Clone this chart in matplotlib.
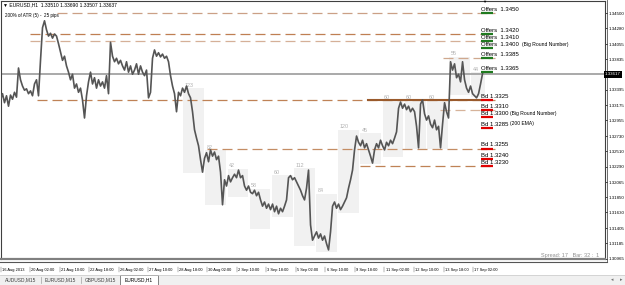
import numpy as np
import matplotlib
matplotlib.use('Agg')
from matplotlib import pyplot as plt
from matplotlib.patches import Rectangle

plt.rcParams['font.family'] = ['Liberation Sans', 'DejaVu Sans']

# EURUSD H1 close, one value every ~2 bars
close = [1.3325, 1.3334, 1.3321, 1.3331, 1.3316, 1.3332, 1.3326, 1.3336, 1.3329, 1.3371,
         1.3354, 1.3345, 1.3339, 1.3341, 1.3334, 1.3338, 1.3331, 1.3348, 1.3354, 1.3331,
         1.3382, 1.3429, 1.3439, 1.3426, 1.3417, 1.3421, 1.3414, 1.3420, 1.3417, 1.3406,
         1.3394, 1.3382, 1.3388, 1.3374, 1.3365, 1.3354, 1.3362, 1.3342, 1.3348, 1.3336,
         1.3342, 1.3325, 1.3299, 1.3331, 1.3351, 1.3365, 1.3348, 1.3357, 1.3342, 1.3354,
         1.3345, 1.3351, 1.3342, 1.3360, 1.3334, 1.3408, 1.3388, 1.3380, 1.3385, 1.3377,
         1.3382, 1.3374, 1.3368, 1.3380, 1.3365, 1.3374, 1.3362, 1.3368, 1.3377, 1.3362,
         1.3374, 1.3365, 1.3360, 1.3368, 1.3328, 1.3336, 1.3385, 1.3397, 1.3388, 1.3393,
         1.3387, 1.3391, 1.3385, 1.3388, 1.3380, 1.3360, 1.3345, 1.3334, 1.3308, 1.3336,
         1.3331, 1.3342, 1.3336, 1.3345, 1.3334, 1.3328, 1.3308, 1.3282, 1.3270, 1.3259,
         1.3239, 1.3221, 1.3241, 1.3249, 1.3236, 1.3253, 1.3244, 1.3250, 1.3239, 1.3244,
         1.3221, 1.3174, 1.3210, 1.3201, 1.3216, 1.3207, 1.3213, 1.3218, 1.3213, 1.3224,
         1.3213, 1.3216, 1.3201, 1.3195, 1.3201, 1.3192, 1.3190, 1.3195, 1.3187, 1.3192,
         1.3181, 1.3172, 1.3178, 1.3169, 1.3175, 1.3167, 1.3175, 1.3164, 1.3172, 1.3161,
         1.3169, 1.3164, 1.3172, 1.3181, 1.3213, 1.3216, 1.3210, 1.3213, 1.3207, 1.3201,
         1.3195, 1.3187, 1.3181, 1.3198, 1.3224, 1.3145, 1.3123, 1.3129, 1.3135, 1.3126,
         1.3132, 1.3123, 1.3129, 1.3118, 1.3109, 1.3135, 1.3172, 1.3178, 1.3169, 1.3175,
         1.3167, 1.3172, 1.3178, 1.3184, 1.3198, 1.3210, 1.3224, 1.3253, 1.3273, 1.3264,
         1.3259, 1.3267, 1.3256, 1.3262, 1.3253, 1.3244, 1.3234, 1.3253, 1.3262, 1.3256,
         1.3267, 1.3259, 1.3253, 1.3264, 1.3259, 1.3267, 1.3262, 1.3270, 1.3279, 1.3313,
         1.3322, 1.3313, 1.3319, 1.3311, 1.3316, 1.3308, 1.3313, 1.3308, 1.3287, 1.3256,
         1.3319, 1.3325, 1.3305, 1.3296, 1.3302, 1.3290, 1.3285, 1.3296, 1.3282, 1.3287,
         1.3256, 1.3290, 1.3321, 1.3308, 1.3299, 1.3380, 1.3368, 1.3377, 1.3357, 1.3362,
         1.3351, 1.3380, 1.3354, 1.3342, 1.3336, 1.3345, 1.3334, 1.3331, 1.3328, 1.3334,
         1.3348, 1.3363]
STEP = 2.167  # bars per sample

date_labels = ['16 Aug 2013', '20 Aug 02:00', '21 Aug 10:00', '22 Aug 18:00', '26 Aug 02:00',
               '27 Aug 10:00', '28 Aug 18:00', '30 Aug 02:00', '2 Sep 10:00', '3 Sep 18:00',
               '5 Sep 02:00', '6 Sep 10:00', '9 Sep 18:00', '11 Sep 02:00', '12 Sep 10:00',
               '13 Sep 18:00', '17 Sep 02:00']
date_bars = [32 * k for k in range(len(date_labels))]

price_ticks = [1.34500, 1.34280, 1.34055, 1.33835, 1.33395, 1.33175, 1.32955, 1.32730,
               1.32510, 1.32290, 1.32065, 1.31850, 1.31630, 1.31405, 1.31185, 1.30965]
last_price = 1.33617

# daily range boxes
day_bar = [198, 222, 246, 270, 294, 318, 342, 366, 390, 414, 438, 462, 486, 510]
day_high = [1.3342, 1.3253, 1.3226, 1.3197, 1.3217, 1.3227, 1.3190, 1.3282, 1.3277,
            1.3325, 1.3325, 1.3325, 1.3387, 1.3365]
day_low = [1.3220, 1.3174, 1.3185, 1.3139, 1.3156, 1.3115, 1.3106, 1.3162, 1.3233,
           1.3243, 1.3254, 1.3254, 1.3332, 1.3329]
day_pips = [123, 82, 42, 58, 60, 112, 84, 120, 45, 60, 60, 60, 55, 44]

offer_price = [1.3450, 1.3420, 1.3410, 1.3400, 1.3385, 1.3365]
offer_note = ['', '', '', '(Big Round Number)', '', '']
bid_price = [1.3325, 1.3310, 1.3300, 1.3285, 1.3255, 1.3240, 1.3230]
bid_note = ['', '', '(Big Round Number)', '(200 EMA)', '', '', '']

line_price = [1.3450, 1.3420, 1.3410, 1.3385, 1.3325, 1.3310, 1.3255, 1.3230]
line_start = [61, 32, 32, 479, 39, 476, 224, 389]
line_color = ['#cba086', '#bf7f52', '#d5b098', '#cfa88e', '#bf8256', '#d6b39a', '#c48d64', '#bf8256']

W, H = 625, 285
fig = plt.figure(figsize=(W / 100, H / 100), dpi=100)
fig.patch.set_facecolor('white')

# chrome in pixel coords
bg = fig.add_axes([0, 0, 1, 1], zorder=-1)
bg.set_xlim(0, W)
bg.set_ylim(H, 0)
bg.axis('off')
bg.plot([0, 607], [262, 262], color='#555555', lw=0.8)
bg.plot([607, 607], [0, 262], color='#555555', lw=0.6)
bg.add_patch(Rectangle((0, 275), W, 10, fc='#f0f0f0', ec='none'))
bg.plot([0, W], [275, 275], color='#c8c8c8', lw=0.5)
bg.add_patch(Rectangle((120, 274.5), 38, 10.5, fc='white', ec='#707070', lw=0.6))
tabs = ['AUDUSD,M15', 'EURUSD,M15', 'GBPUSD,M15', 'EURUSD,H1']
tab_x = [5, 45, 85, 125]
for i, t in enumerate(tabs):
    bg.text(tab_x[i], 280, t, fontsize=3.5, va='center', ha='left',
            color='black' if i == 3 else '#404040')
for sx in [41, 81]:
    bg.plot([sx, sx], [277, 283], color='#a0a0a0', lw=0.5)
bg.text(612, 280, '\u25c2', fontsize=3.5, color='#707070', ha='center', va='center')
bg.text(621, 280, '\u25b8', fontsize=3.5, color='#707070', ha='center', va='center')

ax = fig.add_axes([1 / W, 1 - 259 / H, 604 / W, 258 / H])
ax.set_xlim(0.54, 654.9)
ax.set_ylim(1.30959, 1.34675)
for s in ['left', 'top', 'right']:
    ax.spines[s].set_color('#404040')
    ax.spines[s].set_linewidth(0.8)
ax.spines['bottom'].set_color('#808080')
ax.spines['bottom'].set_linewidth(1.6)

# daily boxes
for i in range(len(day_bar)):
    w = 22.5 if i < len(day_bar) - 1 else len(close) * STEP - day_bar[i] + 1
    ax.add_patch(Rectangle((day_bar[i], day_low[i]), w, day_high[i] - day_low[i],
                           fc='#f1f1f1', ec='none', zorder=0))
    ax.annotate(str(day_pips[i]), (day_bar[i] + 1.5, day_high[i]), xytext=(0, 0.3),
                textcoords='offset points', fontsize=3.9, color='#b0b0b0',
                ha='left', va='bottom')

# level lines
for p, x0, c in zip(line_price, line_start, line_color):
    ax.plot([x0, 536], [p, p], color=c, lw=0.9, dashes=(8, 4), zorder=1)
ax.plot([398, 523], [1.3325, 1.3325], color='#9a5a2c', lw=1.5, zorder=1)
ax.axhline(last_price, color='#a9a9a9', lw=1.4, zorder=1)

x = np.arange(len(close)) * STEP
ax.plot(x, close, color='#555555', lw=1.2, zorder=3)

# offers / bids labels
lx = 520.6
for p, note in zip(offer_price, offer_note):
    ax.plot([lx, lx + 13], [p, p], color='#1f7a1f', lw=1.6, solid_capstyle='butt', zorder=4)
    ax.annotate('Offers  %.4f' % p, (lx, p), xytext=(0, 0.8), textcoords='offset points',
                fontsize=4.3, ha='left', va='bottom', zorder=5)
    if note:
        ax.annotate(note, (565, p), xytext=(0, 0.9), textcoords='offset points',
                    fontsize=3.6, ha='left', va='bottom', zorder=5)
for p, note in zip(bid_price, bid_note):
    ax.plot([lx, lx + 13], [p, p], color='#e00000', lw=1.6, solid_capstyle='butt', zorder=4)
    ax.annotate('Bd %.4f' % p, (lx, p), xytext=(0, 0.8), textcoords='offset points',
                fontsize=4.3, ha='left', va='bottom', zorder=5)
    if note:
        ax.annotate(note, (552, p), xytext=(0, 0.9), textcoords='offset points',
                    fontsize=3.6, ha='left', va='bottom', zorder=5)

# price scale
ax.yaxis.tick_right()
ax.set_yticks(price_ticks)
ax.set_yticklabels(['%.5f' % v for v in price_ticks])
ax.tick_params(axis='y', length=1.5, width=0.5, pad=1.2, labelsize=3.2, colors='black')
ax.text(1.0, last_price, '%.5f' % last_price, transform=ax.get_yaxis_transform(),
        fontsize=3.2, color='white', ha='left', va='center',
        bbox=dict(boxstyle='square,pad=0.3', fc='black', ec='none'), clip_on=False)

# time scale
ax.set_xticks([])
xt = ax.get_xaxis_transform()
for b, lab in zip(date_bars, date_labels):
    ax.plot([b, b], [-0.03, -0.05], transform=xt, color='#505050', lw=0.3, clip_on=False)
    ax.text(b + 1.2, -0.043, lab, transform=xt, fontsize=2.9, ha='left', va='center',
            clip_on=False)

# header texts
ax.text(0.003, 0.985, '\u25bc EURUSD,H1  1.33510 1.33690 1.33507 1.33637',
        transform=ax.transAxes, fontsize=3.6, ha='left', va='center')
ax.text(0.007, 0.944, '200% of ATR (5) -  25 pips', transform=ax.transAxes,
        fontsize=3.3, ha='left', va='center')
ax.text(0.8, 0.998, '\u25bc', transform=ax.transAxes, fontsize=3, ha='center', va='center')
ax.text(0.99, 0.015, 'Spread: 17   Bar: 32 :  1', transform=ax.transAxes, fontsize=4,
        color='#909090', ha='right', va='center')

fig.savefig('out.png', dpi=100, facecolor='white')
